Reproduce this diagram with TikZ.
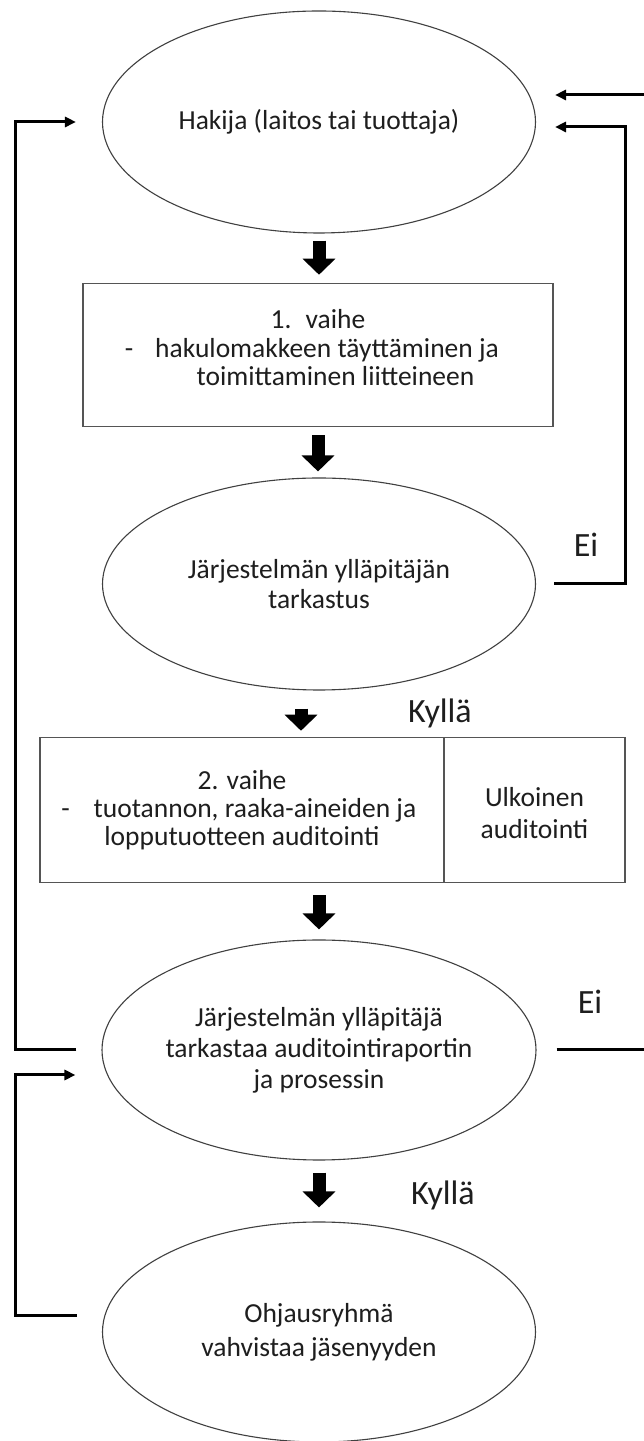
\documentclass[tikz,border=0pt]{standalone}
\usepackage{fontspec}
\setmainfont{Carlito}
\usetikzlibrary{shapes.geometric,arrows.meta}

\begin{document}
\begin{tikzpicture}[x=1pt,y=1pt,
  bubble/.style={ellipse,draw=lineColor,line width=1.1pt,inner sep=0pt,minimum width=433pt,minimum height=222pt,align=center,text=textColor,font=\fontsize{27.5}{30}\selectfont},
  stepbox/.style={rectangle,draw=boxColor,line width=1.5pt,inner sep=0pt},
  steptext/.style={inner sep=0pt,align=center,text=textColor,font=\fontsize{27.5}{28.5}\selectfont},
  answer/.style={anchor=base,inner sep=0pt,text=textColor,font=\fontsize{34}{40}\selectfont},
  downarrow/.style={draw=drawColor,line width=13pt,-{Triangle[width=32pt,length=16pt]}},
  loopline/.style={draw=drawColor,line width=3pt,-{Triangle[width=10pt,length=11pt]}}]
\definecolor{fillColor}{RGB}{255,255,255}
\definecolor{drawColor}{RGB}{0,0,0}
\definecolor{lineColor}{RGB}{64,64,64}
\definecolor{boxColor}{RGB}{85,85,85}
\definecolor{textColor}{RGB}{30,30,30}
\path[use as bounding box,fill=fillColor] (0,0) rectangle (644,1441);
\begin{scope}
\path[clip] (0,0) rectangle (644,1441);

\node[bubble] (hakija) at (319,1319) {Hakija (laitos tai tuottaja)};

\node[stepbox,minimum width=470pt,minimum height=143pt] (vaihe1) at (318,1086) {};

\node[steptext] (vaihe1text) at ([yshift=7pt]vaihe1.center) {1.\hspace{14pt}vaihe\\\hspace*{18pt}\llap{-\hspace{22pt}}hakulomakkeen täyttäminen ja\\\hspace*{35pt}toimittaminen liitteineen};

\node[bubble,minimum height=212pt] (tarkastus) at (319,857) {Järjestelmän ylläpitäjän\\tarkastus};

\node[stepbox,minimum width=404pt,minimum height=145pt] (vaihe2) at (242,631) {};

\node[steptext,font=\fontsize{27.5}{28}\selectfont] (vaihe2text) at (vaihe2.center) {2. vaihe\\\hspace*{26pt}\llap{-\hspace{24pt}}tuotannon, raaka-aineiden ja\\lopputuotteen auditointi};

\node[stepbox,minimum width=181pt,minimum height=145pt] (ulkoinen) at (534.5,631) {};

\node[steptext,font=\fontsize{27.5}{32}\selectfont] (ulkoinentext) at ([yshift=-3pt]ulkoinen.center) {Ulkoinen\\auditointi};

\node[bubble,minimum height=220pt,font=\fontsize{27.5}{31}\selectfont] (raportti) at (319,391) {Järjestelmän ylläpitäjä\\tarkastaa auditointiraportin\\ja prosessin};

\node[bubble,minimum height=220pt,font=\fontsize{27.5}{34}\selectfont] (ohjaus) at (319,109) {Ohjausryhmä\\vahvistaa jäsenyyden};

\node[answer] (ei1) at (586,884) {Ei};

\node[answer] (kylla1) at (440,718) {Kyllä};

\node[answer] (ei2) at (590,427) {Ei};

\node[answer] (kylla2) at (443,236) {Kyllä};

\draw[downarrow,shorten <=7pt,shorten >=8pt] (hakija.south) -- (hakija.south |- vaihe1.north);

\draw[downarrow,shorten <=8pt,shorten >=6pt] (vaihe1.south) -- (vaihe1.south |- tarkastus.north);

\draw[downarrow,shorten <=18pt,shorten >=6pt] ([xshift=-18pt]tarkastus.south) -- ([xshift=-18pt]tarkastus.south |- vaihe2.north);

\draw[downarrow,shorten <=12pt,shorten >=10pt] (raportti.north |- vaihe2.south) -- (raportti.north);

\draw[downarrow,shorten <=12pt,shorten >=14pt] (raportti.south) -- (ohjaus.north);

\draw[loopline,shorten <=25pt,shorten >=26pt] (raportti.west) -- ++(-86,0) |- (hakija.west);

\draw[loopline,shorten <=25pt,shorten >=26pt] ([yshift=16pt]ohjaus.west) -- ++(-86,0) |- ([yshift=-25pt]raportti.west);

\draw[loopline,shorten <=18pt,shorten >=19pt] (tarkastus.east) -- ++(89,0) |- ([yshift=-5pt]hakija.east);

\draw[loopline,shorten <=20pt,shorten >=19pt] (raportti.east) -- ++(140,0) |- ([yshift=27pt]hakija.east);
\end{scope}
\end{tikzpicture}
\end{document}
